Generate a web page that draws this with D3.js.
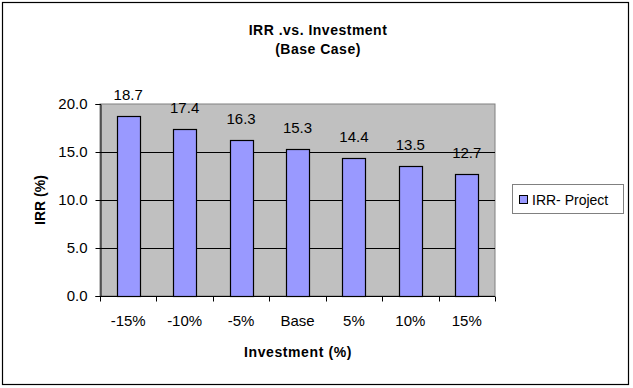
<!DOCTYPE html>
<html>
<head>
<meta charset="utf-8">
<script src="https://cdn.jsdelivr.net/npm/d3@7"></script>
<style>
  body { margin: 0; background: #fff; }
  text { font-family: "Liberation Sans", Arial, sans-serif; }
</style>
</head>
<body>
<script>
const categories = ['-15%', '-10%', '-5%', 'Base', '5%', '10%', '15%'];
const irrProject = [18.7, 17.4, 16.3, 15.3, 14.4, 13.5, 12.7];
const yTicks = [0, 5, 10, 15, 20];
const seriesName = 'IRR- Project';

const W = 633, H = 388;
const plot = { left: 100, right: 495, top: 104, bottom: 296 };

const svg = d3.select('body').append('svg')
  .attr('width', W)
  .attr('height', H);

svg.append('rect')
  .attr('x', 2.5).attr('y', 2.5)
  .attr('width', 626).attr('height', 382)
  .attr('fill', '#fff')
  .attr('stroke', '#000')
  .attr('stroke-width', 1.2);

const x = d3.scaleBand()
  .domain(categories)
  .range([plot.left, plot.right])
  .paddingInner(0.59)
  .paddingOuter(0.295);

const xBand = d3.scaleBand()
  .domain(categories)
  .range([plot.left, plot.right]);

const y = d3.scaleLinear()
  .domain([0, 20])
  .range([plot.bottom, plot.top]);

// plot area
svg.append('rect')
  .attr('x', plot.left).attr('y', plot.top)
  .attr('width', plot.right - plot.left)
  .attr('height', plot.bottom - plot.top)
  .attr('fill', '#c0c0c0')
  .attr('stroke', '#808080');

// gridlines
svg.append('g')
  .selectAll('line')
  .data(yTicks.filter(d => d > 0 && d < 20))
  .enter().append('line')
  .attr('x1', plot.left).attr('x2', plot.right)
  .attr('y1', d => Math.round(y(d)) + 0.5)
  .attr('y2', d => Math.round(y(d)) + 0.5)
  .attr('stroke', '#000');

// bars
svg.append('g')
  .selectAll('rect')
  .data(irrProject)
  .enter().append('rect')
  .attr('x', (d, i) => Math.round(x(categories[i])) + 0.5)
  .attr('y', d => Math.round(y(d)) + 0.5)
  .attr('width', Math.round(x.bandwidth()))
  .attr('height', d => Math.round(plot.bottom - y(d)))
  .attr('fill', '#9999ff')
  .attr('stroke', '#000')
  .attr('stroke-width', 1.2);

// data labels
svg.append('g')
  .selectAll('text')
  .data(irrProject)
  .enter().append('text')
  .attr('x', (d, i) => x(categories[i]) + x.bandwidth() / 2)
  .attr('y', d => y(d) - 16)
  .attr('text-anchor', 'middle')
  .attr('font-size', 15)
  .text(d => d.toFixed(1));

// y axis
const yAxis = d3.axisLeft(y)
  .tickValues(yTicks)
  .tickSize(5)
  .tickFormat(d3.format('.1f'));

const gy = svg.append('g')
  .attr('transform', `translate(${plot.left + 0.5},0)`)
  .call(yAxis);
gy.selectAll('text')
  .attr('font-size', 15)
  .attr('font-family', '"Liberation Sans", Arial, sans-serif')
  .attr('fill', '#000')
  .attr('x', -13);
gy.selectAll('.tick line').attr('stroke', '#000');
gy.select('.domain').attr('stroke', '#000');

// x axis: ticks at category boundaries
const gx = svg.append('g')
  .attr('transform', `translate(0,${plot.bottom + 0.5})`);
gx.append('line')
  .attr('x1', plot.left).attr('x2', plot.right)
  .attr('stroke', '#000');
gx.selectAll('.bound')
  .data(categories.concat(['end']))
  .enter().append('line')
  .attr('class', 'bound')
  .attr('x1', (d, i) => Math.round(plot.left + i * xBand.step()) + 0.5)
  .attr('x2', (d, i) => Math.round(plot.left + i * xBand.step()) + 0.5)
  .attr('y1', 0).attr('y2', 5)
  .attr('stroke', '#000');
gx.selectAll('text')
  .data(categories)
  .enter().append('text')
  .attr('x', d => xBand(d) + xBand.bandwidth() / 2)
  .attr('y', 29)
  .attr('text-anchor', 'middle')
  .attr('font-size', 15)
  .text(d => d);

// titles
svg.append('text')
  .attr('x', 318).attr('y', 35)
  .attr('text-anchor', 'middle')
  .attr('font-size', 14).attr('font-weight', 'bold')
  .attr('letter-spacing', 0.5)
  .text('IRR .vs. Investment');
svg.append('text')
  .attr('x', 318).attr('y', 54)
  .attr('text-anchor', 'middle')
  .attr('font-size', 14).attr('font-weight', 'bold')
  .attr('letter-spacing', 0.5)
  .text('(Base Case)');

svg.append('text')
  .attr('x', 298).attr('y', 357)
  .attr('text-anchor', 'middle')
  .attr('font-size', 14).attr('font-weight', 'bold')
  .attr('letter-spacing', 0.6)
  .text('Investment (%)');

svg.append('text')
  .attr('transform', `translate(45,${(plot.top + plot.bottom) / 2}) rotate(-90)`)
  .attr('text-anchor', 'middle')
  .attr('font-size', 14).attr('font-weight', 'bold')
  .text('IRR (%)');

// legend
const lg = svg.append('g');
lg.append('rect')
  .attr('x', 512.5).attr('y', 184.5)
  .attr('width', 111).attr('height', 29)
  .attr('fill', '#fff')
  .attr('stroke', '#808080');
lg.append('rect')
  .attr('x', 519.5).attr('y', 195.5)
  .attr('width', 8).attr('height', 8)
  .attr('fill', '#9999ff')
  .attr('stroke', '#000');
lg.append('text')
  .attr('x', 532).attr('y', 204.5)
  .attr('font-size', 14)
  .text(seriesName);
</script>
</body>
</html>
